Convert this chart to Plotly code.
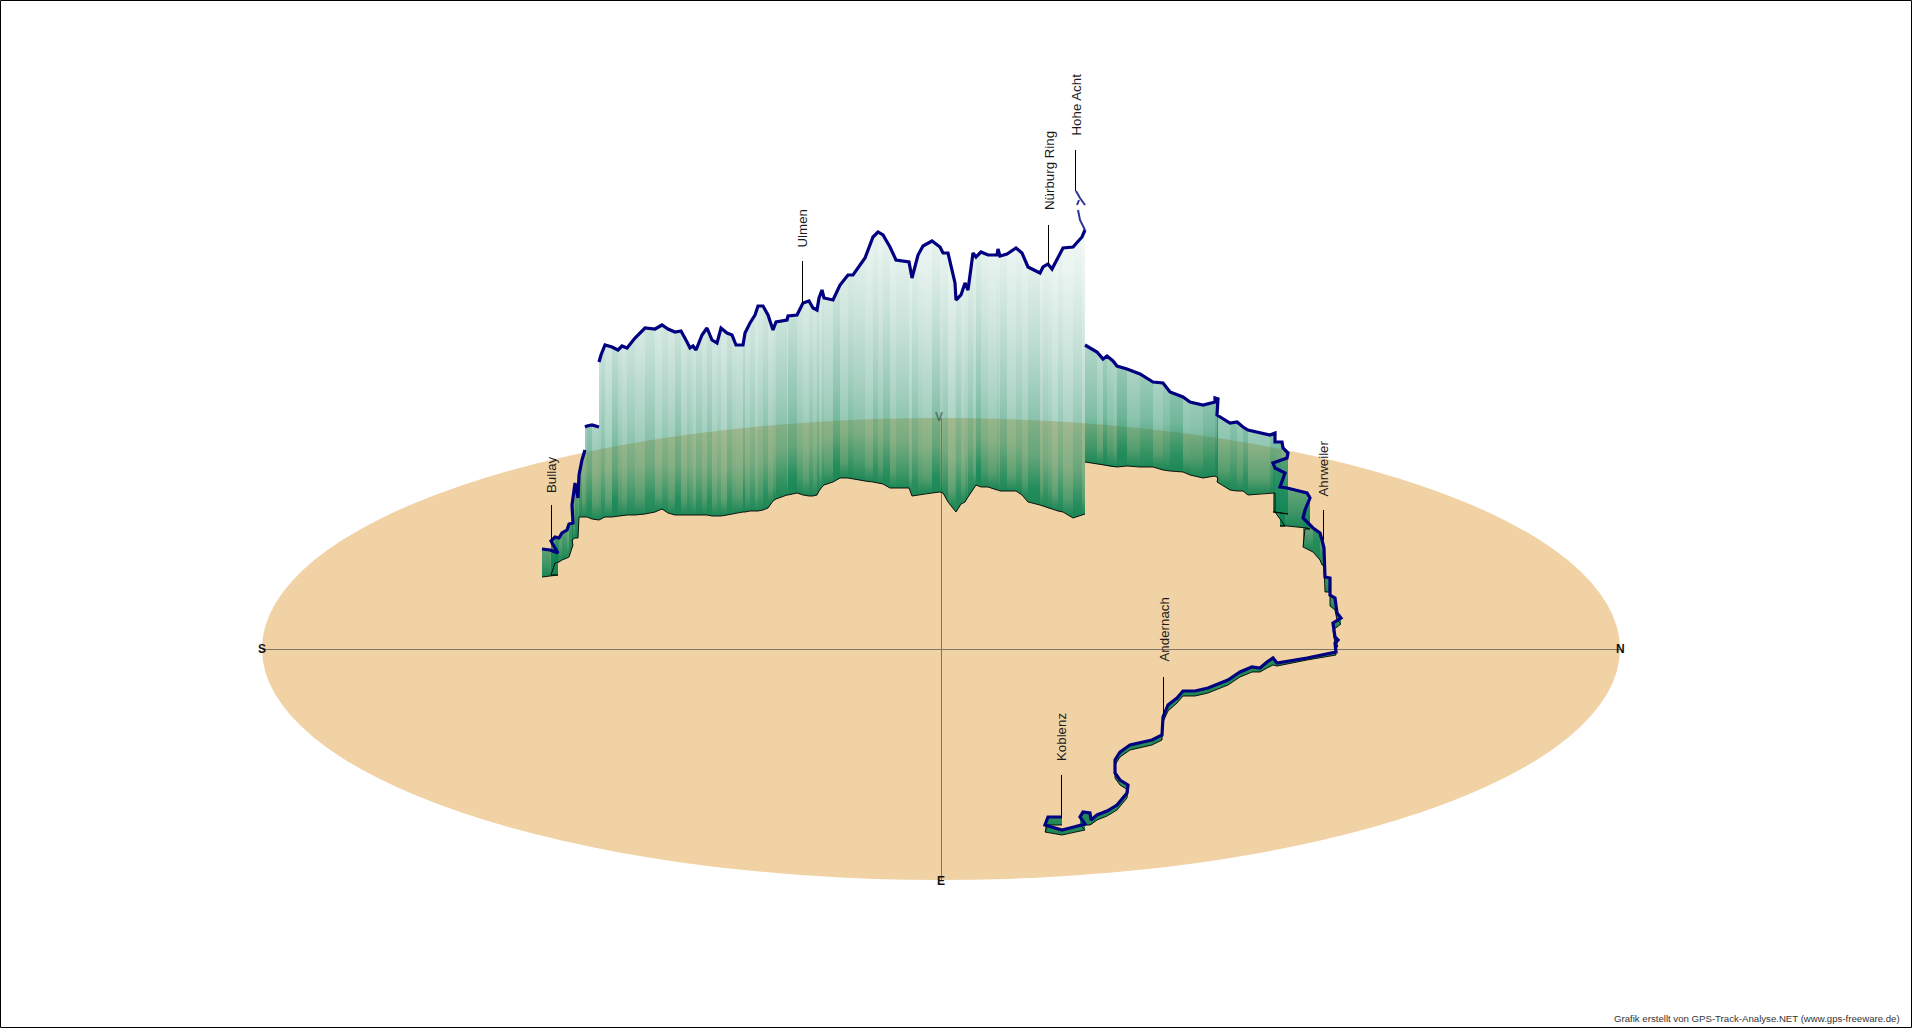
import plotly.graph_objects as go

WIDTH = 1912
HEIGHT = 1028

# Track, in chart units: east-west position, top of curtain (altitude), ground position
rise_x = [542, 550, 558, 551, 555, 559, 562, 567, 569, 573, 572, 575, 578, 579, 582, 585]
rise_top = [549, 550, 553, 541, 537, 538, 533, 530, 524, 523, 505, 483, 498, 475, 460, 450]
rise_ground = [577, 576, 575, 575, 563, 562, 560, 558, 557, 545, 540, 538, 538, 517, 517, 517]

step_x = [585, 587, 592, 599]
step_top = [427, 426, 425, 427]
step_ground = [517, 517, 519, 520]

main_x = [599, 601, 605, 612, 618, 622, 627, 635, 645, 655, 662, 668, 675, 681, 687, 690, 693, 696, 702, 707,
          712, 717, 721, 727, 732, 736, 743, 745, 750, 755, 758, 763, 768, 773, 776, 787, 788, 797, 803, 809,
          813, 817, 819, 822, 824, 833, 840, 848, 853, 865, 873, 878, 883, 890, 896, 909, 912, 918, 923, 932,
          940, 943, 948, 955, 956, 961, 965, 968, 973, 976, 981, 988, 997, 998, 1000, 1007, 1016, 1022, 1028,
          1040, 1043, 1048, 1052, 1058, 1063, 1073, 1082, 1085]
main_top = [362, 355, 345, 347, 350, 346, 348, 338, 328, 329, 325, 329, 332, 331, 342, 348, 346, 350, 335, 328,
            340, 343, 328, 333, 335, 345, 345, 333, 323, 315, 306, 306, 315, 330, 322, 320, 316, 315, 303, 301,
            308, 310, 298, 290, 298, 300, 285, 275, 275, 258, 237, 232, 235, 247, 260, 262, 278, 255, 246, 241,
            247, 253, 253, 283, 300, 295, 283, 290, 253, 257, 252, 255, 255, 249, 256, 254, 248, 253, 267,
            273, 267, 264, 269, 258, 248, 247, 237, 230]
main_ground = [520, 519, 517, 517, 516, 516, 515, 515, 514, 512, 509, 513, 515, 515, 515, 515, 515, 515, 515, 515,
               516, 516, 516, 515, 514, 513, 512, 512, 511, 511, 511, 510, 508, 501, 499, 495, 495, 493, 495, 496,
               496, 495, 491, 487, 485, 482, 478, 478, 479, 481, 482, 483, 484, 488, 488, 488, 496, 495, 494, 493,
               492, 493, 502, 511, 512, 504, 502, 497, 490, 485, 487, 487, 490, 490, 491, 491, 491, 495, 502,
               505, 506, 508, 509, 511, 512, 518, 515, 514]

peak_x = [1085, 1080, 1078, None, 1077, 1079, None, 1085, 1080, 1076]
peak_top = [230, 220, 210, None, 205, 200, None, 205, 198, 191]

descent_x = [1085, 1097, 1103, 1107, 1113, 1117, 1127, 1140, 1153, 1163, 1170, 1183, 1190, 1203, 1215, 1215, 1218,
             1217, 1230, 1237, 1243, 1248, 1270, 1275, 1275, 1282, 1283, 1288, 1287, 1273, 1275, 1285, 1280, 1287,
             1307, 1310, 1305, 1303, 1313, 1320, 1322, 1324, 1325, 1330, 1330, 1335, 1337, 1341, 1333, 1335, 1338,
             1335, 1336, 1307, 1277, 1273, 1267, 1260, 1252, 1240, 1228, 1220, 1208, 1195, 1183, 1177, 1168, 1163,
             1162, 1152, 1130, 1120, 1115, 1115, 1120, 1128, 1127, 1117, 1107, 1097, 1091, 1090, 1083, 1080, 1085,
             1070, 1062, 1045, 1048, 1062]
descent_top = [345, 352, 359, 356, 361, 366, 369, 374, 382, 383, 392, 397, 402, 405, 402, 398, 399,
               415, 423, 422, 427, 430, 435, 433, 442, 442, 448, 453, 458, 463, 468, 473, 487, 488,
               493, 498, 510, 518, 528, 533, 540, 548, 577, 578, 595, 598, 613, 618, 623, 637, 640,
               643, 652, 658, 663, 658, 662, 668, 667, 672, 680, 683, 688, 691, 691, 698, 705, 717,
               735, 740, 745, 752, 760, 773, 780, 785, 793, 805, 811, 815, 820, 813, 812, 817, 824,
               828, 830, 825, 817, 817]
descent_ground = [462, 464, 465, 466, 467, 467, 466, 467, 467, 470, 471, 472, 475, 478, 476, 476, 478,
                  482, 490, 491, 491, 495, 493, 493, 512, 513, 513, 514, 514, 512, 512, 526, 526, 526,
                  528, 529, 529, 547, 552, 560, 565, 566, 592, 592, 606, 610, 620, 624, 630, 644, 646,
                  650, 655, 660, 666, 665, 668, 672, 672, 677, 685, 688, 693, 696, 696, 703, 711, 722,
                  740, 745, 750, 757, 765, 778, 785, 790, 798, 810, 816, 820, 825, 825, 825, 825, 830,
                  833, 835, 832, 825, 825]

# Relative strength of the vertical stripes, as seen along the curtain
stripes = [1.0, 0.87, 1.1, 0.93, 1.16, 0.9, 1.03, 0.85, 1.13, 0.96, 0.9, 1.2, 0.93, 1.07, 0.87, 1.0, 1.16, 0.9, 0.96, 1.1,
           0.87, 1.22, 1.0, 0.9, 1.07, 0.93, 1.13, 0.87, 1.04, 0.93, 1.2, 0.9, 1.07]

# Gradient along the height of the curtain: fraction, red, green, blue, opacity
gradient_at = [0.0, 0.05, 0.15, 0.30, 0.50, 0.75, 1.0]
gradient_rgb = [(15, 130, 80), (22, 136, 88), (40, 146, 103), (55, 150, 115), (70, 157, 128), (100, 175, 150), (140, 190, 175)]
gradient_alpha = [0.94, 0.78, 0.58, 0.45, 0.30, 0.15, 0.05]
gradient_span = 320

# Landmarks: name, label centre, leader line
place_names = ["Bullay", "Ulmen", "Nürburg Ring", "Hohe Acht", "Ahrweiler", "Andernach", "Koblenz"]
label_x = [551.5, 802, 1049, 1075.5, 1323, 1163.5, 1061]
label_y = [474.5, 228.5, 171, 105, 468.5, 630, 737]
leader_x = [551.5, 802.5, 1048.5, 1075.5, 1323.5, 1163.5, 1061.5]
leader_from = [505, 261, 225, 150, 510, 677, 775]
leader_to = [545, 303, 264, 191, 540, 717, 817]

# Compass disc
disc_left, disc_right, disc_top, disc_bottom = 262, 1620, 418, 880
centre_x, centre_y = 941, 649.5
compass_names = ["S", "N", "E", "V"]
compass_x = [262, 1620, 941, 939]
compass_y = [649, 649, 881, 417]
compass_colors = ["#111111", "#111111", "#111111", "rgba(60,75,65,0.65)"]

DISC = "#F0D2A5"
AXIS = "#7D7468"
TRACK = "#000080"
FONT = "Liberation Sans"

fig = go.Figure()
sections = [(rise_x, rise_top, rise_ground), (step_x, step_top, step_ground),
            (main_x, main_top, main_ground), (descent_x, descent_top, descent_ground)]

n = 0
for xs, tops, grounds in sections:
    for i in range(len(xs) - 1):
        shade = stripes[n % len(stripes)]
        n += 1
        if xs[i] == xs[i + 1]:
            continue
        base = (grounds[i] + grounds[i + 1]) / 2
        scale = [[f, "rgba(%d,%d,%d,%.3f)" % (*rgb, min(1, a * (shade if f > 0 else 1)))]
                 for f, rgb, a in zip(gradient_at, gradient_rgb, gradient_alpha)]
        fig.add_trace(go.Scatter(
            x=[xs[i], xs[i + 1], xs[i + 1], xs[i], xs[i]],
            y=[tops[i], tops[i + 1], grounds[i + 1], grounds[i], tops[i]],
            mode="lines", line=dict(width=0), fill="toself",
            fillgradient=dict(type="vertical", colorscale=scale, start=base, stop=base - gradient_span),
            hoverinfo="skip", showlegend=False))

for xs, tops, grounds in sections:
    fig.add_trace(go.Scatter(x=xs, y=grounds, mode="lines", line=dict(color="#000000", width=0.9),
                             hoverinfo="skip", showlegend=False))
for xs, tops, grounds in sections:
    fig.add_trace(go.Scatter(x=xs, y=tops, mode="lines", line=dict(color=TRACK, width=3.2),
                             hoverinfo="skip", showlegend=False))
fig.add_trace(go.Scatter(x=peak_x, y=peak_top, mode="lines", line=dict(color=TRACK, width=2),
                         opacity=0.8, connectgaps=False, hoverinfo="skip", showlegend=False))

lead_x, lead_y = [], []
for x, y0, y1 in zip(leader_x, leader_from, leader_to):
    lead_x += [x, x, None]
    lead_y += [y0, y1, None]
fig.add_trace(go.Scatter(x=lead_x, y=lead_y, mode="lines", line=dict(color="#000000", width=1),
                         hoverinfo="skip", showlegend=False))

shapes = [
    dict(type="circle", xref="x", yref="y", x0=disc_left, x1=disc_right, y0=disc_top, y1=disc_bottom,
         fillcolor=DISC, line=dict(width=0), layer="below"),
    dict(type="line", xref="x", yref="y", x0=disc_left, x1=disc_right, y0=centre_y, y1=centre_y,
         line=dict(color=AXIS, width=1), layer="below"),
    dict(type="line", xref="x", yref="y", x0=centre_x + 0.5, x1=centre_x + 0.5, y0=disc_top, y1=disc_bottom,
         line=dict(color=AXIS, width=1), layer="below"),
    dict(type="rect", xref="x", yref="y", x0=0.5, x1=WIDTH - 0.5, y0=0.5, y1=HEIGHT - 0.5,
         line=dict(color="#000000", width=1), layer="above"),
]

annotations = [
    dict(x=x, y=y, xref="x", yref="y", text=name, textangle=-90, showarrow=False,
         font=dict(family=FONT, size=13.3, color="#1a1a1a"), xanchor="center", yanchor="middle")
    for name, x, y in zip(place_names, label_x, label_y)
]
annotations += [
    dict(x=x, y=y, xref="x", yref="y", text="<b>%s</b>" % name, showarrow=False,
         font=dict(family=FONT, size=12, color=c), xanchor="center", yanchor="middle")
    for name, x, y, c in zip(compass_names, compass_x, compass_y, compass_colors)
]
annotations.append(dict(x=1902, y=1018, xref="x", yref="y", showarrow=False, xanchor="right", yanchor="middle",
                        text="Grafik erstellt von GPS-Track-Analyse.NET (www.gps-freeware.de)",
                        font=dict(family=FONT, size=9.65, color="#333333")))

fig.update_layout(
    width=WIDTH, height=HEIGHT, margin=dict(l=0, r=0, t=0, b=0, pad=0),
    paper_bgcolor="#FFFFFF", plot_bgcolor="#FFFFFF", showlegend=False, hovermode=False,
    xaxis=dict(range=[0, WIDTH], visible=False, fixedrange=True),
    yaxis=dict(range=[HEIGHT, 0], visible=False, fixedrange=True),
    shapes=shapes, annotations=annotations,
)

fig.write_html("out.html", config={"displayModeBar": False},
               post_script="document.body.style.margin='0';document.body.style.overflow='hidden';")
